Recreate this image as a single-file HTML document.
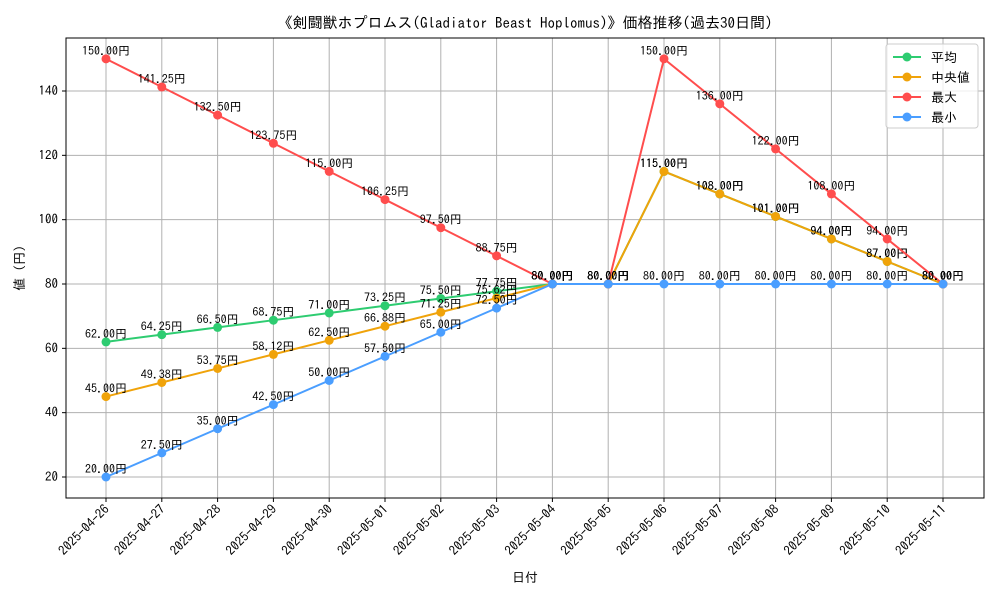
<!DOCTYPE html>
<html><head><meta charset="utf-8"><style>
body{margin:0;background:#fff;}
svg text{font-family:"IPAGothic","Liberation Sans","Noto Sans CJK JP",sans-serif;}
</style></head><body>
<svg id="chart" width="1000" height="600" xmlns="http://www.w3.org/2000/svg">
<rect width="1000" height="600" fill="#fff"/>
<text x="525" y="28" font-size="15" text-anchor="middle">《剣闘獣ホプロムス(Gladiator Beast Hoplomus)》価格推移(過去30日間)</text>
<g id="grid"></g><g id="series"></g>
<rect x="66" y="38" width="918" height="460" fill="none" stroke="#000" stroke-width="1"/>
<g id="axes"></g>
<text x="525" y="582" font-size="13" text-anchor="middle">日付</text>
<text x="24" y="268" font-size="13" text-anchor="middle" transform="rotate(-90 24 268)">値 (円)</text>
<g id="legend"></g>
</svg>
<script>
const dates=["2025-04-26","2025-04-27","2025-04-28","2025-04-29","2025-04-30","2025-05-01","2025-05-02","2025-05-03","2025-05-04","2025-05-05","2025-05-06","2025-05-07","2025-05-08","2025-05-09","2025-05-10","2025-05-11"];
const avgVals=[62,64.25,66.5,68.75,71,73.25,75.5,77.75,80,80,115,108,101,94,87,80];
const medVals=[45,49.38,53.75,58.12,62.5,66.88,71.25,75.62,80,80,115,108,101,94,87,80];
const maxVals=[150,141.25,132.5,123.75,115,106.25,97.5,88.75,80,80,150,136,122,108,94,80];
const minVals=[20,27.5,35,42.5,50,57.5,65,72.5,80,80,80,80,80,80,80,80];
const yTicks=[20,40,60,80,100,120,140];
const seriesNames=["平均","中央値","最大","最小"];
const NS="http://www.w3.org/2000/svg";
const x=i=>106+i*(943-106)/(dates.length-1);
const y=v=>477-(v-20)*(477-91)/120;
function mk(t,a,p){const e=document.createElementNS(NS,t);for(const k in a)e.setAttribute(k,a[k]);p.appendChild(e);return e;}
const grid=document.getElementById('grid'),axes=document.getElementById('axes');
dates.forEach((d,i)=>{
 const g=mk('line',{x1:x(i),x2:x(i),y1:38,y2:498,stroke:'#b0b0b0','stroke-width':1},grid);
 
 
 mk('line',{x1:x(i),x2:x(i),y1:498,y2:502,stroke:'#000'},axes);
 const t=mk('text',{x:x(i)+4,y:510,'font-size':13,'text-anchor':'end',transform:`rotate(-45 ${x(i)+4} 510)`},axes);
 
 
 t.textContent=d;
});
yTicks.forEach(v=>{
 const g=mk('line',{x1:66,x2:984,y1:y(v),y2:y(v),stroke:'#b0b0b0','stroke-width':1},grid);
 
 
 mk('line',{x1:62,x2:66,y1:y(v),y2:y(v),stroke:'#000'},axes);
 const t=mk('text',{x:58,y:y(v)+4,'font-size':13,'text-anchor':'end'},axes);
 
 
 t.textContent=v;
});
const ser=document.getElementById('series');
const all=[[avgVals,'#2ecc71'],[medVals,'#f0a30a'],[maxVals,'#ff4d4d'],[minVals,'#4a9eff']];
all.forEach(([vals,c],si)=>{
 const g=mk('g',{},ser);
 
 
 const pl=mk('polyline',{points:vals.map((v,i)=>x(i)+','+y(v)).join(' '),fill:'none',stroke:c,'stroke-width':2},g);
 
 
 vals.forEach((v,i)=>{
  const p=mk('circle',{cx:x(i),cy:y(v),r:4.5,fill:c},g);
  
  
  const t=mk('text',{x:x(i),y:y(v)-4,'font-size':12,'text-anchor':'middle'},g);
  
  
  t.textContent=v.toFixed(2)+'円';
 });
});
const lg=document.getElementById('legend');
const box=mk('rect',{x:886,y:44,width:92,height:84,fill:'#fff','fill-opacity':0.8,stroke:'#ccc',rx:3},lg);


all.forEach(([v,c],i)=>{
 const yy=57+i*20;
 const e=mk('g',{},lg);
 
 
 mk('line',{x1:893,x2:921,y1:yy,y2:yy,stroke:c,'stroke-width':2},e);
 mk('circle',{cx:907,cy:yy,r:4.5,fill:c},e);
 const t=mk('text',{x:931,y:yy+5,'font-size':13},e);
 t.textContent=seriesNames[i];
});
</script>
</body></html>
